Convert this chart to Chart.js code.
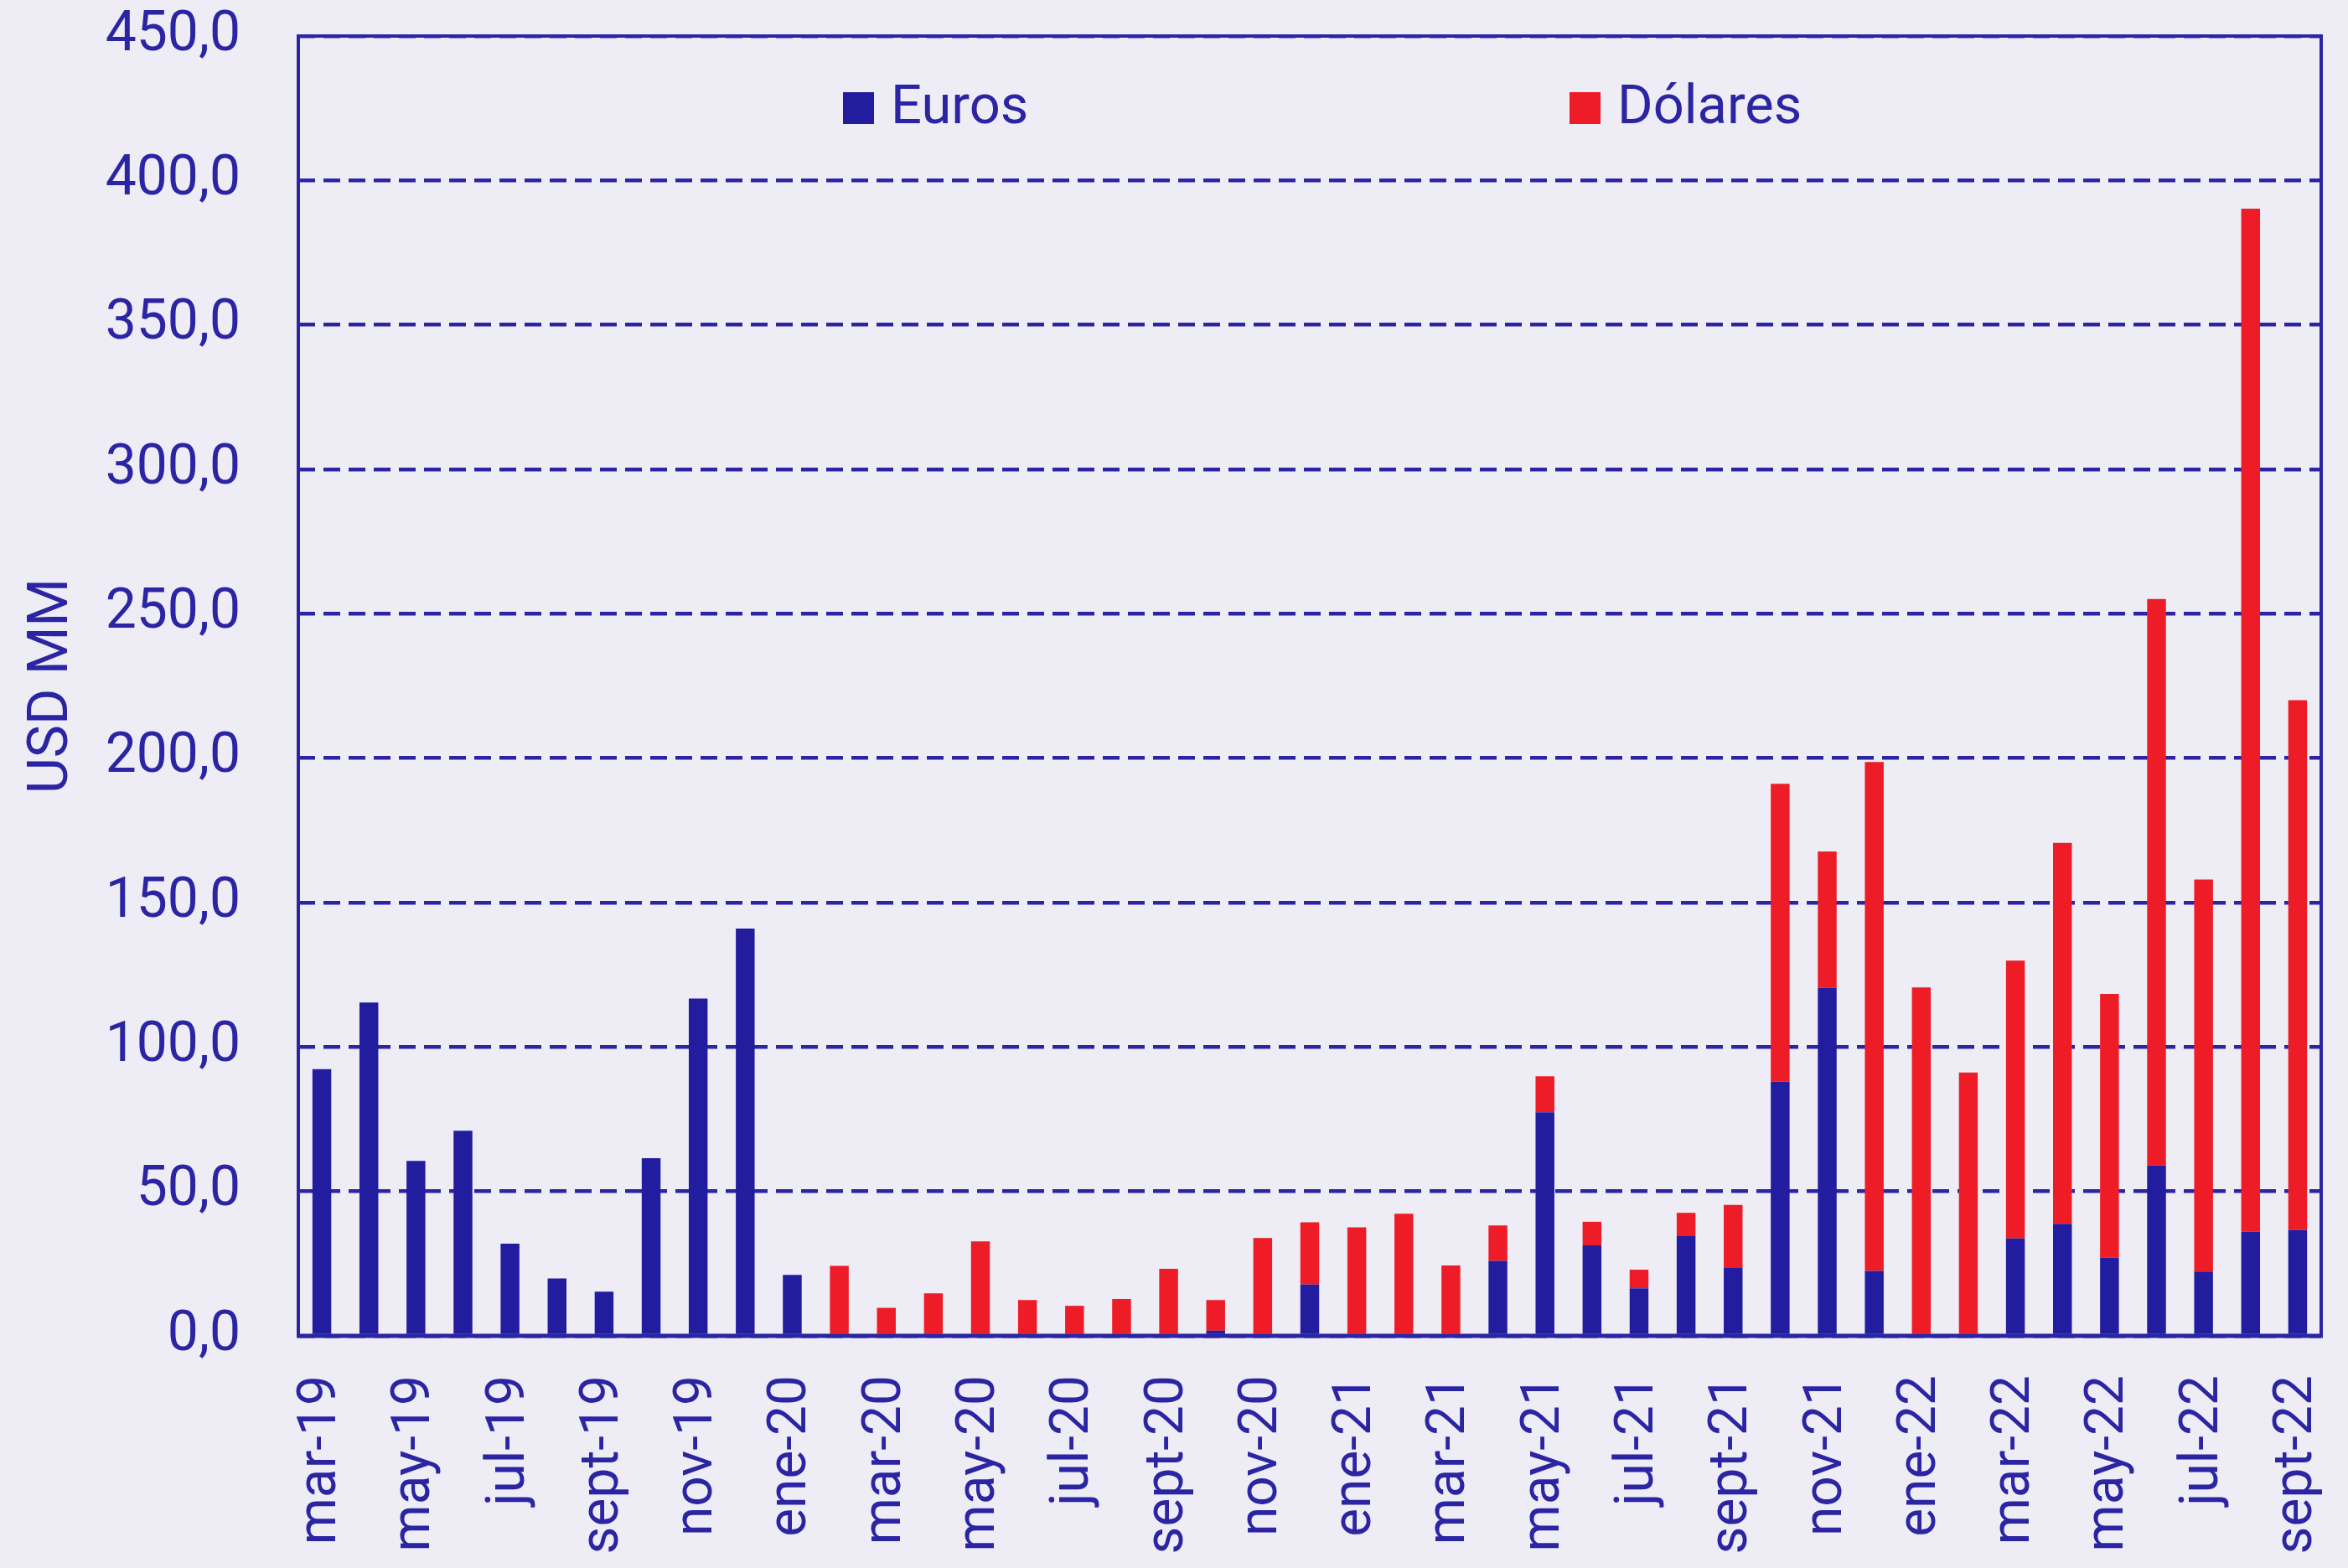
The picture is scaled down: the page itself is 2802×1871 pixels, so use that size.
<!DOCTYPE html>
<html>
<head>
<meta charset="utf-8">
<script src="https://cdn.jsdelivr.net/npm/chart.js@4.4.1/dist/chart.umd.min.js"></script>
<style>
  html, body { margin: 0; padding: 0; background: #EEEDF6; }
  #wrap { width: 2802px; height: 1871px; }
</style>
</head>
<body>
<div id="wrap"><canvas id="FlowsChart" width="2802" height="1871"></canvas></div>
<script>
// months, mar-19 .. sept-22
const categories = [
    'mar-19', 'abr-19', 'may-19', 'jun-19', 'jul-19', 'ago-19', 'sept-19', 'oct-19', 'nov-19', 'dic-19',
    'ene-20', 'feb-20', 'mar-20', 'abr-20', 'may-20', 'jun-20', 'jul-20', 'ago-20', 'sept-20', 'oct-20', 'nov-20', 'dic-20',
    'ene-21', 'feb-21', 'mar-21', 'abr-21', 'may-21', 'jun-21', 'jul-21', 'ago-21', 'sept-21', 'oct-21', 'nov-21', 'dic-21',
    'ene-22', 'feb-22', 'mar-22', 'abr-22', 'may-22', 'jun-22', 'jul-22', 'ago-22', 'sept-22'
];

// USD MM
const euros = [
    92.3, 115.4, 60.6, 71.0, 31.9, 19.9, 15.3, 61.5, 116.8, 141.0,
    21.1, 0, 0, 0, 0, 0, 0, 0, 0, 1.8, 0, 17.8,
    0, 0, 0, 26.0, 77.4, 31.3, 16.5, 34.5, 23.5, 88.0, 120.5, 22.5,
    0, 0, 33.7, 38.8, 27.1, 59.0, 22.3, 36.1, 36.7
];
const dolares = [
    0, 0, 0, 0, 0, 0, 0, 0, 0, 0,
    0, 24.2, 9.7, 14.7, 32.7, 12.4, 10.4, 12.8, 23.2, 10.6, 33.9, 21.5,
    37.6, 42.3, 24.4, 12.2, 12.5, 8.2, 6.4, 8.1, 21.8, 103.1, 47.2, 176.2,
    120.6, 91.2, 96.2, 131.9, 91.3, 196.1, 135.7, 354.1, 183.4
];

const yTicks = [0, 50, 100, 150, 200, 250, 300, 350, 400, 450];

const seriesNames = ['Euros', 'Dólares'];

const INK = '#2B25A3';
const BLUE = '#221C9F';
const RED = '#EE1C27';
const FONT = 'Roboto';

// background + frame round the plot
const framePlugin = {
    id: 'frame',
    beforeDraw(chart) {
        const ctx = chart.ctx;
        ctx.save();
        ctx.fillStyle = '#EEEDF6';
        ctx.fillRect(0, 0, chart.width, chart.height);
        ctx.restore();
    },
    afterDatasetsDraw(chart) {
        const {ctx, chartArea} = chart;
        ctx.save();
        ctx.strokeStyle = INK;
        ctx.lineWidth = 4;
        ctx.beginPath();
        ctx.moveTo(chartArea.left, chartArea.bottom);
        ctx.lineTo(chartArea.left, chartArea.top);
        ctx.lineTo(chartArea.right, chartArea.top);
        ctx.lineTo(chartArea.right, chartArea.bottom);
        ctx.stroke();
        ctx.lineWidth = 5;
        ctx.beginPath();
        ctx.moveTo(chartArea.left - 2, chartArea.bottom);
        ctx.lineTo(chartArea.right + 2, chartArea.bottom);
        ctx.stroke();
        ctx.restore();
    }
};

// legend sits inside the plot, two items far apart
const insideLegend = {
    id: 'insideLegend',
    afterDraw(chart) {
        const ctx = chart.ctx;
        const spots = [1006, 1873];
        ctx.save();
        ctx.font = '65px ' + FONT;
        ctx.textBaseline = 'middle';
        chart.data.datasets.forEach((ds, i) => {
            const x = spots[i];
            ctx.fillStyle = ds.backgroundColor;
            ctx.fillRect(x, 110, 37, 38);
            ctx.fillStyle = INK;
            ctx.fillText(ds.label, x + 57, 131);
        });
        ctx.restore();
    }
};

new Chart(document.getElementById('FlowsChart').getContext('2d'), {
    type: 'bar',
    data: {
        labels: categories,
        datasets: [{
            label: seriesNames[0],
            data: euros,
            backgroundColor: BLUE,
            borderWidth: 0,
            barPercentage: 0.4,
            categoryPercentage: 1.0
        }, {
            label: seriesNames[1],
            data: dolares,
            backgroundColor: RED,
            borderWidth: 0,
            barPercentage: 0.4,
            categoryPercentage: 1.0
        }]
    },
    options: {
        responsive: false,
        devicePixelRatio: 1,
        animation: false,
        layout: { padding: { top: 43, right: 32, left: 0, bottom: 0 } },
        plugins: {
            legend: { display: false },
            tooltip: { enabled: false }
        },
        scales: {
            x: {
                stacked: true,
                grid: { display: false, drawTicks: false },
                border: { display: false },
                ticks: {
                    autoSkip: false,
                    maxRotation: 90,
                    minRotation: 90,
                    padding: 47,
                    color: INK,
                    font: { size: 64, family: FONT },
                    callback: (val, i) => (i % 2 === 0 ? categories[i] : '')
                },
                afterFit: (scale) => {
                    scale.height = 277;
                    scale.paddingLeft = 0;
                    scale.paddingRight = 0;
                }
            },
            y: {
                stacked: true,
                min: yTicks[0],
                max: yTicks[yTicks.length - 1],
                afterBuildTicks: (scale) => { scale.ticks = yTicks.map(v => ({ value: v })); },
                grid: { color: INK, lineWidth: 4.5, drawTicks: false },
                border: { display: false, dash: [20, 10] },
                ticks: {
                    padding: 69,
                    color: INK,
                    font: { size: 66, family: FONT },
                    callback: (v) => v.toFixed(1).replace('.', ',')
                },
                title: {
                    display: true,
                    text: 'USD MM',
                    color: INK,
                    font: { size: 66, family: FONT },
                    padding: { top: 24, bottom: 0 }
                },
                afterFit: (scale) => {
                    scale.width = 356;
                    scale.paddingTop = 0;
                    scale.paddingBottom = 0;
                }
            }
        }
    },
    plugins: [framePlugin, insideLegend]
});
</script>
</body>
</html>
